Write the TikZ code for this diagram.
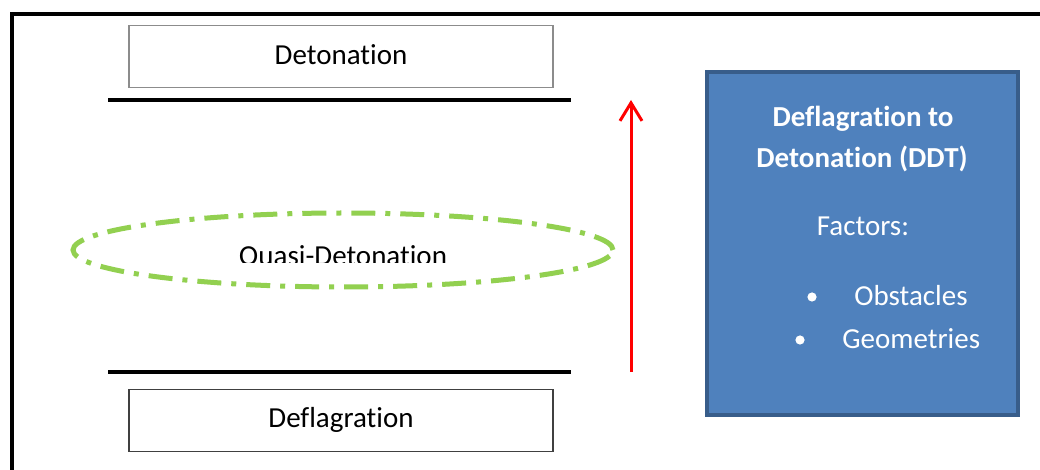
\documentclass[tikz,border=0pt]{standalone}
\usepackage{fontspec}
\setmainfont{Carlito}[Ligatures=NoCommon]
\usetikzlibrary{shapes.geometric,arrows.meta}
\definecolor{ddtfill}{HTML}{4F81BD}
\definecolor{ddtedge}{HTML}{385D8A}
\definecolor{quasigreen}{HTML}{92D050}
\definecolor{lightedge}{HTML}{8C8C8C}
\definecolor{darkedge}{HTML}{404040}
\tikzset{
  every node/.style={font=\fontsize{14.5}{17}\selectfont},
  regimebox/.style={draw, line width=0.75pt, minimum width=212pt, minimum height=31pt, inner sep=0pt},
  label/.style={anchor=base, inner sep=0pt},
  boundary/.style={line width=1.75pt},
  whitetext/.style={text=white, anchor=base, inner sep=0pt},
  bulletdot/.style={circle, fill=white, minimum size=4.6pt, inner sep=0pt},
}
\begin{document}
\begin{tikzpicture}[x=0.5pt, y=-0.5pt]
  \useasboundingbox (0,0) rectangle (1040,470);
  \clip (0,0) rectangle (1040,470);
  \fill[white] (0,0) rectangle (1040,470);

  % outer frame, running off the right and bottom edges
  \draw[line width=2.3pt] (12,14) rectangle (1080,510);

  % regime boxes
  \node[regimebox, draw=lightedge] (det) at (341,56.5) {};
  \node[label] (dettext) at (341,65) {Detonation};
  \node[regimebox, draw=darkedge] (defl) at (341,420.5) {};
  \node[label] (defltext) at (341,428) {Deflagration};

  % boundaries between regimes
  \coordinate (topL) at (108,100);
  \coordinate (topR) at (571,100);
  \coordinate (botL) at (108,372);
  \coordinate (botR) at (571,372);
  \draw[boundary] (topL) -- (topR);
  \draw[boundary] (botL) -- (botR);

  % quasi-detonation region
  \node[ellipse, draw=quasigreen, line width=2.5pt, minimum width=270pt, minimum height=37pt,
        inner sep=0pt, dash pattern=on 12pt off 5pt on 2.5pt off 5pt] (quasi) at (343,250) {};
  \begin{scope}
    \clip (150,200) rectangle (540,263);
    \node[label] (quasitext) at (343,266) {Quasi-Detonation};
  \end{scope}

  % transition arrow
  \coordinate (arrowbot) at (631,372);
  \coordinate (arrowtop) at (631,100);
  \draw[red, line width=1.5pt, -{Straight Barb[length=9pt,width=11pt]}] (arrowbot) -- (arrowtop);

  % DDT panel
  \node[draw=ddtedge, fill=ddtfill, line width=2pt, minimum width=155.5pt, minimum height=171.5pt,
        inner sep=0pt] (ddt) at (862.5,243.5) {};
  \node[whitetext, font=\fontsize{14.5}{17}\selectfont\bfseries] (ddt1) at (863,127) {Deflagration to};
  \node[whitetext, font=\fontsize{14.5}{17}\selectfont\bfseries] (ddt2) at (862,168) {Detonation (DDT)};
  \node[whitetext] (factors) at (863,236) {Factors:};
  \node[bulletdot] (b1) at (812,297) {};
  \node[whitetext, anchor=base west] (obst) at (854,306) {Obstacles};
  \node[bulletdot] (b2) at (800,340) {};
  \node[whitetext, anchor=base west] (geom) at (842,349) {Geometries};
\end{tikzpicture}
\end{document}
